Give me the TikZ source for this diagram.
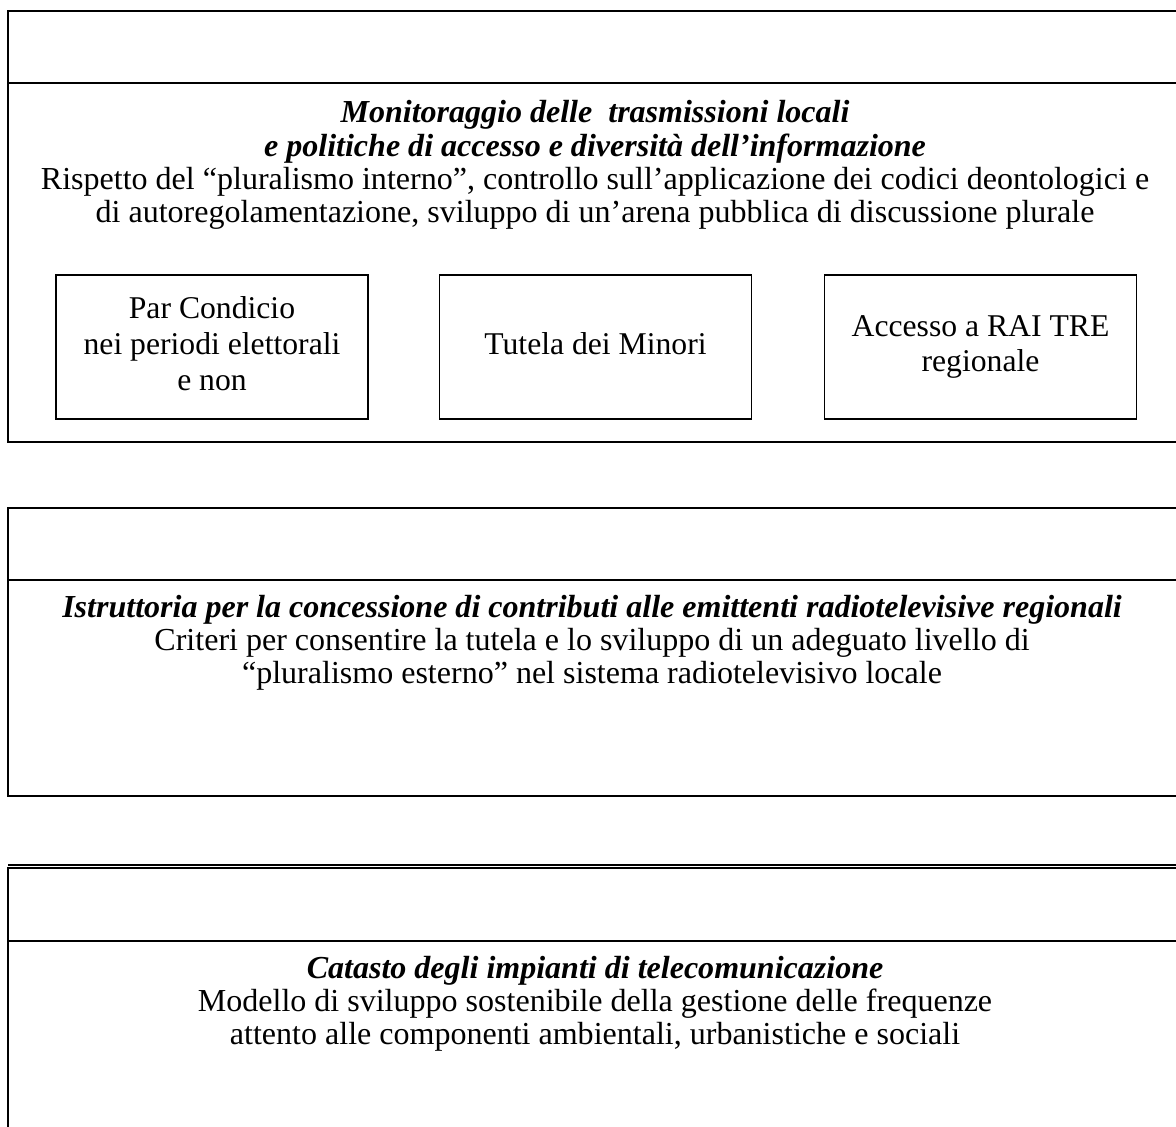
\documentclass[tikz,border=0pt]{standalone}
\usepackage{fontspec}
\setmainfont{Liberation Serif}
\newcommand{\titolo}[1]{\textbf{\textit{#1}}}
\begin{document}
\begin{tikzpicture}[x=0.42pt,y=-0.42pt,
	panel/.style={draw,line width=0.7pt},
	smallbox/.style={draw,line width=0.7pt,minimum width=131pt,minimum height=60.5pt,inner sep=0pt,align=center,font=\fontsize{13.3}{15}\selectfont,execute at end node=\vphantom{g}},
	maintext/.style={anchor=base,inner sep=0pt,font=\fontsize{13.45}{13.8}\selectfont}]
\useasboundingbox (0,0) rectangle (1176,1126);
\clip (0,0) rectangle (1176,1126);
% the three panels, each with an empty band on top
\foreach \top/\mid/\bot in {11/83/442,508/580/796,868/941/1160}{
	\draw[panel] (8,\top) rectangle (1190,\bot);
	\draw[panel] (8,\mid) -- (1190,\mid);
}
\draw[line width=0.5pt] (8,865) -- (1190,865);
% first panel
\foreach \n/\y/\t in {1/123/{\titolo{Monitoraggio delle\ \ trasmissioni locali}},
	2/156/{\titolo{e politiche di accesso e diversità dell’informazione}},
	3/189/{Rispetto del “pluralismo interno”, controllo sull’applicazione dei codici deontologici e},
	4/222/{di autoregolamentazione, sviluppo di un’arena pubblica di discussione plurale}}{
	\node[maintext] (monitor\n) at (595,\y) {\t};
}
\node[smallbox] (parcond) at (212,347) {Par Condicio\\nei periodi elettorali\\e non};
\node[smallbox] (minori) at (595.5,347) {Tutela dei Minori};
\node[smallbox] (raitre) at (980.5,347) {Accesso a RAI TRE\\regionale};
% second panel
\foreach \n/\y/\t in {1/617/{\titolo{Istruttoria per la concessione di contributi alle emittenti radiotelevisive regionali}},
	2/650/{Criteri per consentire la tutela e lo sviluppo di un adeguato livello di},
	3/683/{“pluralismo esterno” nel sistema radiotelevisivo locale}}{
	\node[maintext] (contributi\n) at (592,\y) {\t};
}
% third panel
\foreach \n/\y/\t in {1/978/{\titolo{Catasto degli impianti di telecomunicazione}},
	2/1011/{Modello di sviluppo sostenibile della gestione delle frequenze},
	3/1044/{attento alle componenti ambientali, urbanistiche e sociali}}{
	\node[maintext] (catasto\n) at (595,\y) {\t};
}
\end{tikzpicture}
\end{document}
